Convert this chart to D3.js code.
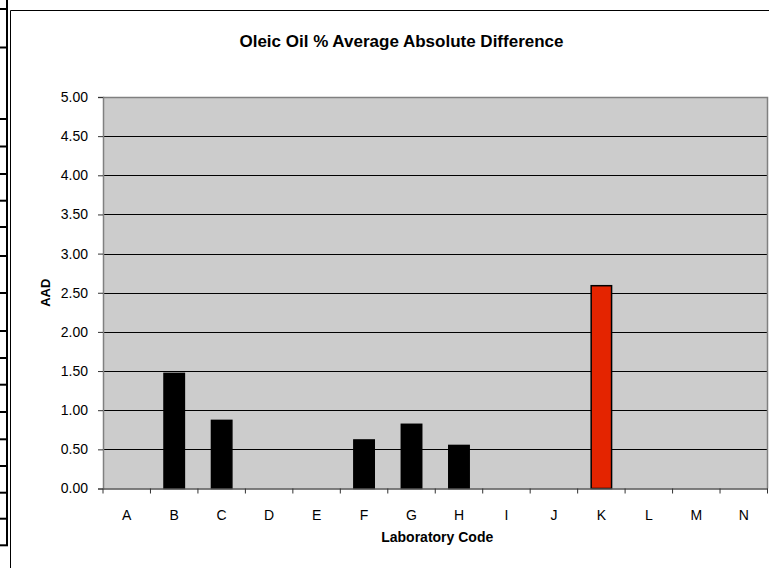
<!DOCTYPE html>
<html><head><meta charset="utf-8">
<script src="https://cdn.jsdelivr.net/npm/d3@7"></script>
<style>html,body{margin:0;padding:0;background:#fff;}svg{display:block;}</style>
</head><body>
<script>
const categories = ["A","B","C","D","E","F","G","H","I","J","K","L","M","N"];
const aad = [null,1.47,0.87,null,null,0.62,0.82,0.55,null,null,2.59,null,null,null];
const highlight = ["K"];
const yTicks = [0,0.5,1,1.5,2,2.5,3,3.5,4,4.5,5];
const tableRows = [9,47.5,119,146.5,174,200.7,227,256,293,331,358,384.7,412,439.3,466,492.7,518.7,545.3];
const title = "Oleic Oil % Average Absolute Difference";
const xTitle = "Laboratory Code";
const yTitle = "AAD";

const W = 769, H = 568;
const svg = d3.select("body").append("svg").attr("width", W).attr("height", H);
const font = "Liberation Sans, Arial, sans-serif";

// left table fragment
svg.append("line").attr("x1",7).attr("x2",7).attr("y1",0).attr("y2",546)
  .attr("stroke","#000").attr("stroke-width",2);
svg.selectAll("line.row").data(tableRows).enter().append("line")
  .attr("x1",0).attr("x2",8).attr("y1",d=>d).attr("y2",d=>d)
  .attr("stroke","#000").attr("stroke-width",2);
// chart area border
svg.append("path").attr("d","M10.5,568 V10.5 H769").attr("fill","none").attr("stroke","#000").attr("stroke-width",1);

const m = {left:103, right:767.5, top:97, bottom:488.5};
const x = d3.scaleBand().domain(categories).range([m.left, m.right]).padding(0);
const y = d3.scaleLinear().domain([0,5]).range([m.bottom, m.top]);

// plot background
svg.append("rect").attr("x",m.left).attr("y",m.top).attr("width",m.right-m.left).attr("height",m.bottom-m.top)
  .attr("fill","#cccccc");
// gridlines
svg.append("g").selectAll("line").data(yTicks.filter(d=>d>0 && d<5)).enter().append("line")
  .attr("x1",m.left).attr("x2",m.right).attr("y1",d=>Math.round(y(d))+0.5).attr("y2",d=>Math.round(y(d))+0.5)
  .attr("stroke","#000").attr("stroke-width",1);
// plot border (gray)
svg.append("path").attr("d",`M${m.left},${Math.round(m.top)+0.5} H${m.right} V${m.bottom}`)
  .attr("fill","none").attr("stroke","#808080").attr("stroke-width",1.5);

// bars
const bw = x.bandwidth()*0.43;
const data = categories.map((c,i)=>({c, v:aad[i]})).filter(d=>d.v!=null);
svg.append("g").selectAll("rect").data(data).enter().append("rect")
  .attr("x",d=>x(d.c)+x.bandwidth()/2-bw/2)
  .attr("y",d=>y(d.v))
  .attr("width",bw)
  .attr("height",d=>y(0)-y(d.v))
  .attr("fill",d=>highlight.includes(d.c)?"#e42400":"#000")
  .attr("stroke","#000").attr("stroke-width",1.5);

// y axis
const yAxis = svg.append("g").attr("transform",`translate(${m.left},0)`)
  .call(d3.axisLeft(y).tickValues(yTicks).tickFormat(d3.format(".2f")).tickSize(5).tickPadding(10));
yAxis.select(".domain").attr("stroke","#808080").attr("stroke-width",1.5);
yAxis.selectAll(".tick line").attr("stroke","#333");
yAxis.selectAll("text").attr("font-family",font).attr("font-size",14).attr("fill","#000");

// x axis
const xAxis = svg.append("g").attr("transform",`translate(0,${m.bottom})`)
  .call(d3.axisBottom(x).tickSize(0).tickPadding(21.5));
xAxis.select(".domain").attr("stroke","#555").attr("stroke-width",1.5);
xAxis.selectAll("text").attr("font-family",font).attr("font-size",14).attr("fill","#000");
svg.append("g").selectAll("line").data(categories.concat(["__end"])).enter().append("line")
  .attr("x1",(d,i)=>i<categories.length? x(d) : m.right)
  .attr("x2",(d,i)=>i<categories.length? x(d) : m.right)
  .attr("y1",m.bottom).attr("y2",m.bottom+5).attr("stroke","#333").attr("stroke-width",1);

// titles
svg.append("text").attr("x",401.5).attr("y",46.5).attr("text-anchor","middle")
  .attr("font-family",font).attr("font-weight","bold").attr("font-size",17).text(title);
svg.append("text").attr("x",(m.left+m.right)/2+2).attr("y",541.5).attr("text-anchor","middle")
  .attr("font-family",font).attr("font-weight","bold").attr("font-size",14).text(xTitle);
svg.append("text").attr("transform",`translate(50,${(m.top+m.bottom)/2}) rotate(-90)`).attr("text-anchor","middle")
  .attr("font-family",font).attr("font-weight","bold").attr("font-size",13).text(yTitle);
</script>
</body></html>
